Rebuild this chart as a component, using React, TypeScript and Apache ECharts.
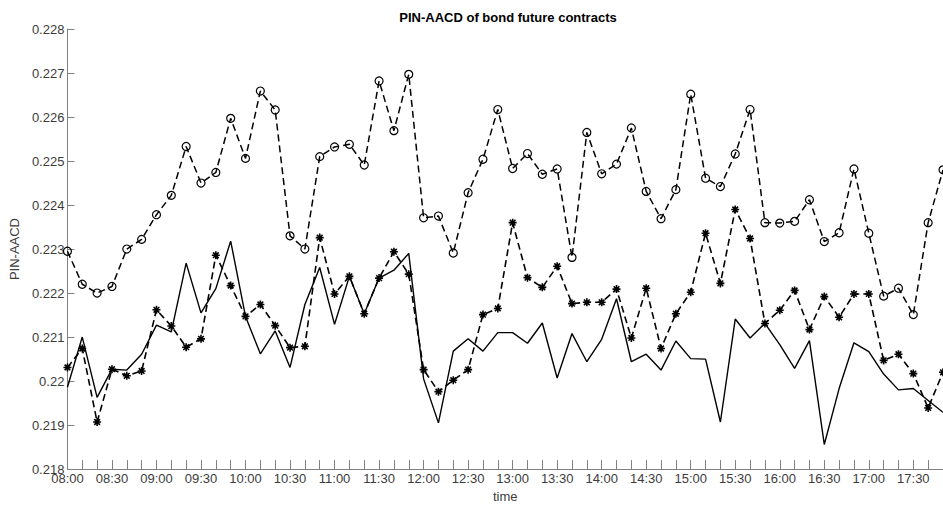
import React, { useEffect, useRef } from "react";
import * as echarts from "echarts";

const times: string[] = [];
for (let h = 8; h <= 17; h++) {
  for (let m = 0; m < 60; m += 10) {
    times.push(`${h < 10 ? "0" + h : h}:${m === 0 ? "00" : m}`);
  }
}

const circleSeries = [
  0.22295, 0.2222, 0.222, 0.22215, 0.223, 0.22322, 0.22378, 0.22422, 0.22533, 0.2245,
  0.22474, 0.22597, 0.22506, 0.22659, 0.22616, 0.2233, 0.223, 0.2251, 0.22532, 0.22538,
  0.22491, 0.22682, 0.22569, 0.22697, 0.22371, 0.22375, 0.22291, 0.22428, 0.22504, 0.22617,
  0.22483, 0.22517, 0.2247, 0.22482, 0.22281, 0.22565, 0.22471, 0.22493, 0.22575, 0.22431,
  0.22369, 0.22435, 0.22652, 0.22461, 0.22442, 0.22516, 0.22617, 0.2236, 0.22359, 0.22363,
  0.22412, 0.22317, 0.22337, 0.22482, 0.22336, 0.22193, 0.22211, 0.22151, 0.2236, 0.2248,
];

const starSeries = [
  0.22031, 0.22074, 0.21907, 0.22027, 0.22012, 0.22023, 0.22162, 0.22125, 0.22077, 0.22096,
  0.22286, 0.22217, 0.22147, 0.22174, 0.22126, 0.22076, 0.22079, 0.22326, 0.22198, 0.22238,
  0.22153, 0.22234, 0.22294, 0.22243, 0.22026, 0.21976, 0.22002, 0.22026, 0.22151, 0.22165,
  0.2236, 0.22235, 0.22213, 0.22261, 0.22176, 0.22179, 0.22179, 0.22209, 0.22098, 0.22211,
  0.22074, 0.22153, 0.22202, 0.22336, 0.22222, 0.2239, 0.22324, 0.22131, 0.22161, 0.22206,
  0.22117, 0.22192, 0.22145, 0.22198, 0.22198, 0.22047, 0.22061, 0.22017, 0.21939, 0.2202,
];

const solidSeries = [
  0.21986, 0.221, 0.21963, 0.22027, 0.22025, 0.22061, 0.22127, 0.22112, 0.22268, 0.22155,
  0.2221, 0.22318, 0.22147, 0.22062, 0.22114, 0.22031, 0.22174, 0.22258, 0.22129, 0.22238,
  0.22153, 0.22234, 0.22252, 0.2229, 0.22005, 0.21905, 0.22068, 0.22096, 0.22068, 0.2211,
  0.2211, 0.22086, 0.22132, 0.22007, 0.22108, 0.22044, 0.22095, 0.22187, 0.22044, 0.22061,
  0.22025, 0.22091, 0.22051, 0.2205, 0.21907, 0.22141, 0.22098, 0.22131, 0.22083, 0.22029,
  0.22092, 0.21856, 0.21983, 0.22087, 0.22067, 0.22016, 0.2198, 0.21983, 0.21956, 0.21929,
];

const FONT = "'Liberation Sans', Arial, sans-serif";
const AXIS_GRAY = "#808080";
const TEXT_GRAY = "#3c3c3c";

const asterisk =
  "path://M8,0 L12,0 L12,20 L8,20 Z M0,8 L20,8 L20,12 L0,12 Z M1.5,4.3 L4.3,1.5 L18.5,15.7 L15.7,18.5 Z M15.7,1.5 L18.5,4.3 L4.3,18.5 L1.5,15.7 Z";

export default function App() {
  const ref = useRef<HTMLDivElement>(null);
  useEffect(() => {
    if (!ref.current) return;
    const chart = echarts.init(ref.current, undefined, { renderer: "svg" });
    chart.setOption({
      animation: false,
      backgroundColor: "#ffffff",
      title: {
        text: "PIN-AACD of bond future contracts",
        left: 503,
        top: 6,
        textAlign: "center",
        textStyle: { fontFamily: FONT, fontSize: 13, fontWeight: "bold", color: "#000" },
      },
      grid: { left: 65, right: -1, top: 29, bottom: 36 },
      xAxis: {
        type: "category",
        data: times,
        boundaryGap: false,
        name: "time",
        nameLocation: "middle",
        nameGap: 20,
        nameTextStyle: { fontFamily: FONT, fontSize: 13, color: TEXT_GRAY },
        axisLine: { lineStyle: { color: AXIS_GRAY, width: 1 } },
        axisTick: { inside: true, length: 9, interval: 0, lineStyle: { color: AXIS_GRAY } },
        axisLabel: { interval: 2, margin: 3, fontFamily: FONT, fontSize: 13, color: TEXT_GRAY },
        splitLine: { show: false },
      },
      yAxis: {
        type: "value",
        min: 0.218,
        max: 0.228,
        interval: 0.001,
        name: "PIN-AACD",
        nameLocation: "middle",
        nameGap: 43,
        nameTextStyle: { fontFamily: FONT, fontSize: 13, color: TEXT_GRAY },
        axisLine: { show: true, lineStyle: { color: AXIS_GRAY, width: 1 } },
        axisTick: { show: true, inside: true, length: 7, lineStyle: { color: AXIS_GRAY } },
        axisLabel: {
          margin: 3,
          fontFamily: FONT,
          fontSize: 13,
          color: TEXT_GRAY,
          formatter: (v: number) => String(parseFloat(v.toFixed(3))),
        },
        splitLine: { show: false },
      },
      series: [
        {
          type: "line",
          data: circleSeries,
          symbol: "circle",
          symbolSize: 8,
          showAllSymbol: true,
          lineStyle: { color: "#000", width: 1.5, type: [7, 4] },
          itemStyle: { color: "rgba(255,255,255,0)", borderColor: "#000", borderWidth: 1.2 },
          z: 3,
        },
        {
          type: "line",
          data: starSeries,
          symbol: asterisk,
          symbolSize: 8,
          showAllSymbol: true,
          lineStyle: { color: "#000", width: 1.6, type: [7, 4] },
          itemStyle: { color: "#000", borderWidth: 0 },
          z: 3,
        },
        {
          type: "line",
          data: solidSeries,
          symbol: "none",
          lineStyle: { color: "#000", width: 1.4, type: "solid" },
          z: 2,
        },
      ],
    });
    return () => chart.dispose();
  }, []);
  return (
    <div
      ref={ref}
      style={{ position: "fixed", left: 0, top: 0, width: 943, height: 508, background: "#fff" }}
    />
  );
}
